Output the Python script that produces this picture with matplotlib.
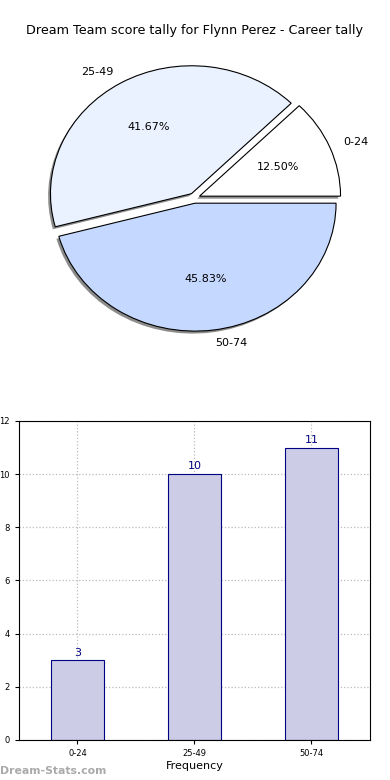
import matplotlib
matplotlib.use("Agg")
import matplotlib.pyplot as plt

title = "Dream Team score tally for Flynn Perez - Career tally"
categories = ["0-24", "25-49", "50-74"]
counts = [3, 10, 11]
pie_colors = ["#ffffff", "#eaf1ff", "#c5d8ff"]
explode = [0.04, 0.04, 0.04]

fig = plt.figure(figsize=(3.9, 7.8), dpi=100)

# Pie axes (not equal aspect -> elliptical pie like the reference)
ax1 = fig.add_axes([0.0462, 0.541, 0.904, 0.410])
wedges, texts, autotexts = ax1.pie(
    counts, labels=categories, colors=pie_colors, explode=explode,
    autopct="%1.2f%%", startangle=0,
    shadow=dict(ox=-0.012, oy=-0.014, facecolor="#8c8c8c", edgecolor="none", alpha=1.0),
    wedgeprops=dict(edgecolor="black", linewidth=0.8),
    textprops=dict(fontsize=8))
ax1.set_aspect("auto")
ax1.set_xlim(-1.25, 1.25)
ax1.set_ylim(-1.25, 1.25)
ax1.set_axis_off()
fig.text(0.5, 0.961, title, ha="center", va="center", fontsize=9.2)

# Bar axes
ax2 = fig.add_axes([0.0487, 0.0513, 0.9, 0.409])
x = list(range(len(categories)))
bars = ax2.bar(x, counts, width=0.45, color="#ccccE6", edgecolor="#000080", linewidth=0.8, zorder=2)
for xi, c in zip(x, counts):
    ax2.text(xi, c + 0.1, str(c), ha="center", va="bottom", fontsize=8, color="#000080")
ax2.set_xlim(-0.5, 2.5)
ax2.set_ylim(0, 12)
ax2.set_yticks(range(0, 13, 2))
ax2.set_xticks(x)
ax2.set_xticklabels(categories)
ax2.tick_params(labelsize=6, length=3, direction="out")
ax2.grid(True, linestyle=":", color="#bbbbbb", linewidth=0.9)
ax2.set_axisbelow(True)
ax2.set_xlabel("Frequency", fontsize=8, labelpad=2)
ax2.set_ylabel("Score Tally", fontsize=8)
ax2.yaxis.set_label_coords(-0.06, 0.5)

fig.text(0.0, 0.012, "Dream-Stats.com", ha="left", va="center", fontsize=7.8,
         color="#aaaaaa", fontweight="bold")

fig.savefig("out.png", dpi=100)
